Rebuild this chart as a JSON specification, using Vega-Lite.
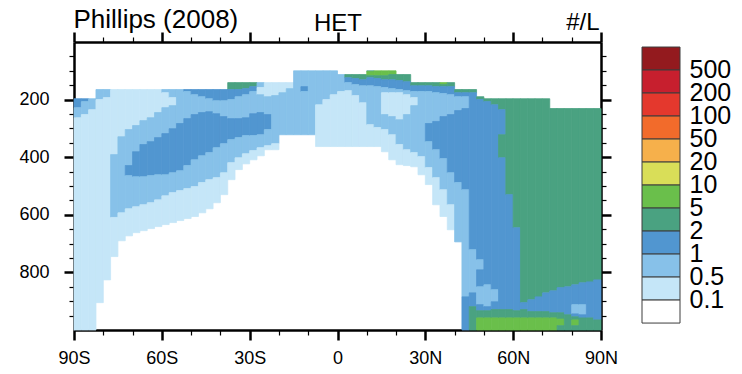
{
"$schema": "https://vega.github.io/schema/vega-lite/v6.json",
"background": "white",
"padding": {"left": 18, "top": 6, "right": 2, "bottom": 2},
"config": {
  "font": "Liberation Sans",
  "view": {"stroke": null},
  "concat": {"spacing": 23},
  "axis": {"grid": false, "domainColor": "black", "tickColor": "black", "labelColor": "black", "titleColor": "black", "labelFont": "Liberation Sans", "titleFont": "Liberation Sans"}
},
"resolve": {"scale": {"color": "independent"}},
"hconcat": [
{
  "width": 527, "height": 288,
  "data": {"values": [
{"a":-90,"b":-87.5,"p":197,"q":228,"c":"1"},{"a":-90,"b":-87.5,"p":228,"q":263,"c":"0.5"},{"a":-90,"b":-87.5,"p":263,"q":1000,"c":"0.1"},
{"a":-87.5,"b":-85,"p":197,"q":207,"c":"1"},{"a":-87.5,"b":-85,"p":207,"q":252,"c":"0.5"},{"a":-87.5,"b":-85,"p":252,"q":1000,"c":"0.1"},
{"a":-85,"b":-82.5,"p":197,"q":235,"c":"0.5"},{"a":-85,"b":-82.5,"p":235,"q":1000,"c":"0.1"},
{"a":-82.5,"b":-80,"p":165,"q":200,"c":"0.5"},{"a":-82.5,"b":-80,"p":200,"q":905,"c":"0.1"},
{"a":-80,"b":-77.5,"p":165,"q":193,"c":"0.5"},{"a":-80,"b":-77.5,"p":193,"q":826,"c":"0.1"},
{"a":-77.5,"b":-75,"p":165,"q":391,"c":"0.1"},{"a":-77.5,"b":-75,"p":391,"q":609,"c":"0.5"},{"a":-77.5,"b":-75,"p":609,"q":745,"c":"0.1"},
{"a":-75,"b":-72.5,"p":165,"q":329,"c":"0.1"},{"a":-75,"b":-72.5,"p":329,"q":593,"c":"0.5"},{"a":-75,"b":-72.5,"p":593,"q":690,"c":"0.1"},
{"a":-72.5,"b":-70,"p":165,"q":304,"c":"0.1"},{"a":-72.5,"b":-70,"p":304,"q":429,"c":"0.5"},{"a":-72.5,"b":-70,"p":429,"q":464,"c":"1"},{"a":-72.5,"b":-70,"p":464,"q":579,"c":"0.5"},{"a":-72.5,"b":-70,"p":579,"q":673,"c":"0.1"},
{"a":-70,"b":-67.5,"p":165,"q":290,"c":"0.1"},{"a":-70,"b":-67.5,"p":290,"q":381,"c":"0.5"},{"a":-70,"b":-67.5,"p":381,"q":468,"c":"1"},{"a":-70,"b":-67.5,"p":468,"q":572,"c":"0.5"},{"a":-70,"b":-67.5,"p":572,"q":662,"c":"0.1"},
{"a":-67.5,"b":-65,"p":165,"q":273,"c":"0.1"},{"a":-67.5,"b":-65,"p":273,"q":356,"c":"0.5"},{"a":-67.5,"b":-65,"p":356,"q":468,"c":"1"},{"a":-67.5,"b":-65,"p":468,"q":565,"c":"0.5"},{"a":-67.5,"b":-65,"p":565,"q":655,"c":"0.1"},
{"a":-65,"b":-62.5,"p":165,"q":263,"c":"0.1"},{"a":-65,"b":-62.5,"p":263,"q":346,"c":"0.5"},{"a":-65,"b":-62.5,"p":346,"q":464,"c":"1"},{"a":-65,"b":-62.5,"p":464,"q":558,"c":"0.5"},{"a":-65,"b":-62.5,"p":558,"q":648,"c":"0.1"},
{"a":-62.5,"b":-60,"p":165,"q":245,"c":"0.1"},{"a":-62.5,"b":-60,"p":245,"q":332,"c":"0.5"},{"a":-62.5,"b":-60,"p":332,"q":461,"c":"1"},{"a":-62.5,"b":-60,"p":461,"q":548,"c":"0.5"},{"a":-62.5,"b":-60,"p":548,"q":641,"c":"0.1"},
{"a":-60,"b":-57.5,"p":165,"q":176,"c":"0.5"},{"a":-60,"b":-57.5,"p":176,"q":228,"c":"0.1"},{"a":-60,"b":-57.5,"p":228,"q":318,"c":"0.5"},{"a":-60,"b":-57.5,"p":318,"q":461,"c":"1"},{"a":-60,"b":-57.5,"p":461,"q":534,"c":"0.5"},{"a":-60,"b":-57.5,"p":534,"q":634,"c":"0.1"},
{"a":-57.5,"b":-55,"p":165,"q":193,"c":"0.5"},{"a":-57.5,"b":-55,"p":193,"q":221,"c":"0.1"},{"a":-57.5,"b":-55,"p":221,"q":301,"c":"0.5"},{"a":-57.5,"b":-55,"p":301,"q":454,"c":"1"},{"a":-57.5,"b":-55,"p":454,"q":523,"c":"0.5"},{"a":-57.5,"b":-55,"p":523,"q":627,"c":"0.1"},
{"a":-55,"b":-52.5,"p":165,"q":283,"c":"0.5"},{"a":-55,"b":-52.5,"p":283,"q":447,"c":"1"},{"a":-55,"b":-52.5,"p":447,"q":516,"c":"0.5"},{"a":-55,"b":-52.5,"p":516,"q":620,"c":"0.1"},
{"a":-52.5,"b":-50,"p":165,"q":172,"c":"1"},{"a":-52.5,"b":-50,"p":172,"q":266,"c":"0.5"},{"a":-52.5,"b":-50,"p":266,"q":429,"c":"1"},{"a":-52.5,"b":-50,"p":429,"q":509,"c":"0.5"},{"a":-52.5,"b":-50,"p":509,"q":613,"c":"0.1"},
{"a":-50,"b":-47.5,"p":165,"q":183,"c":"1"},{"a":-50,"b":-47.5,"p":183,"q":252,"c":"0.5"},{"a":-50,"b":-47.5,"p":252,"q":409,"c":"1"},{"a":-50,"b":-47.5,"p":409,"q":502,"c":"0.5"},{"a":-50,"b":-47.5,"p":502,"q":606,"c":"0.1"},
{"a":-47.5,"b":-45,"p":165,"q":190,"c":"1"},{"a":-47.5,"b":-45,"p":190,"q":245,"c":"0.5"},{"a":-47.5,"b":-45,"p":245,"q":395,"c":"1"},{"a":-47.5,"b":-45,"p":395,"q":488,"c":"0.5"},{"a":-47.5,"b":-45,"p":488,"q":593,"c":"0.1"},
{"a":-45,"b":-42.5,"p":165,"q":197,"c":"1"},{"a":-45,"b":-42.5,"p":197,"q":242,"c":"0.5"},{"a":-45,"b":-42.5,"p":242,"q":384,"c":"1"},{"a":-45,"b":-42.5,"p":384,"q":478,"c":"0.5"},{"a":-45,"b":-42.5,"p":478,"q":579,"c":"0.1"},
{"a":-42.5,"b":-40,"p":165,"q":204,"c":"1"},{"a":-42.5,"b":-40,"p":204,"q":249,"c":"0.5"},{"a":-42.5,"b":-40,"p":249,"q":367,"c":"1"},{"a":-42.5,"b":-40,"p":367,"q":471,"c":"0.5"},{"a":-42.5,"b":-40,"p":471,"q":558,"c":"0.1"},
{"a":-40,"b":-37.5,"p":165,"q":204,"c":"1"},{"a":-40,"b":-37.5,"p":204,"q":259,"c":"0.5"},{"a":-40,"b":-37.5,"p":259,"q":353,"c":"1"},{"a":-40,"b":-37.5,"p":353,"q":454,"c":"0.5"},{"a":-40,"b":-37.5,"p":454,"q":530,"c":"0.1"},
{"a":-37.5,"b":-35,"p":141,"q":165,"c":"2"},{"a":-37.5,"b":-35,"p":165,"q":200,"c":"1"},{"a":-37.5,"b":-35,"p":200,"q":266,"c":"0.5"},{"a":-37.5,"b":-35,"p":266,"q":339,"c":"1"},{"a":-37.5,"b":-35,"p":339,"q":419,"c":"0.5"},{"a":-37.5,"b":-35,"p":419,"q":478,"c":"0.1"},
{"a":-35,"b":-32.5,"p":141,"q":165,"c":"2"},{"a":-35,"b":-32.5,"p":165,"q":190,"c":"1"},{"a":-35,"b":-32.5,"p":190,"q":266,"c":"0.5"},{"a":-35,"b":-32.5,"p":266,"q":332,"c":"1"},{"a":-35,"b":-32.5,"p":332,"q":402,"c":"0.5"},{"a":-35,"b":-32.5,"p":402,"q":443,"c":"0.1"},
{"a":-32.5,"b":-30,"p":141,"q":162,"c":"2"},{"a":-32.5,"b":-30,"p":162,"q":183,"c":"1"},{"a":-32.5,"b":-30,"p":183,"q":263,"c":"0.5"},{"a":-32.5,"b":-30,"p":263,"q":325,"c":"1"},{"a":-32.5,"b":-30,"p":325,"q":388,"c":"0.5"},{"a":-32.5,"b":-30,"p":388,"q":423,"c":"0.1"},
{"a":-30,"b":-27.5,"p":141,"q":155,"c":"2"},{"a":-30,"b":-27.5,"p":155,"q":172,"c":"1"},{"a":-30,"b":-27.5,"p":172,"q":249,"c":"0.5"},{"a":-30,"b":-27.5,"p":249,"q":325,"c":"1"},{"a":-30,"b":-27.5,"p":325,"q":377,"c":"0.5"},{"a":-30,"b":-27.5,"p":377,"q":409,"c":"0.1"},
{"a":-27.5,"b":-25,"p":141,"q":158,"c":"0.5"},{"a":-27.5,"b":-25,"p":158,"q":183,"c":"0.1"},{"a":-27.5,"b":-25,"p":183,"q":245,"c":"0.5"},{"a":-27.5,"b":-25,"p":245,"q":322,"c":"1"},{"a":-27.5,"b":-25,"p":322,"q":367,"c":"0.5"},{"a":-27.5,"b":-25,"p":367,"q":395,"c":"0.1"},
{"a":-25,"b":-22.5,"p":141,"q":190,"c":"0.1"},{"a":-25,"b":-22.5,"p":190,"q":252,"c":"0.5"},{"a":-25,"b":-22.5,"p":252,"q":304,"c":"1"},{"a":-25,"b":-22.5,"p":304,"q":360,"c":"0.5"},{"a":-25,"b":-22.5,"p":360,"q":374,"c":"0.1"},
{"a":-22.5,"b":-20,"p":141,"q":186,"c":"0.1"},{"a":-22.5,"b":-20,"p":186,"q":353,"c":"0.5"},{"a":-22.5,"b":-20,"p":353,"q":374,"c":"0.1"},
{"a":-20,"b":-17.5,"p":141,"q":176,"c":"0.1"},{"a":-20,"b":-17.5,"p":176,"q":322,"c":"0.5"},
{"a":-17.5,"b":-15,"p":141,"q":162,"c":"0.1"},{"a":-17.5,"b":-15,"p":162,"q":322,"c":"0.5"},
{"a":-15,"b":-12.5,"p":100,"q":322,"c":"0.5"},
{"a":-12.5,"b":-10,"p":100,"q":155,"c":"0.5"},{"a":-12.5,"b":-10,"p":155,"q":172,"c":"1"},{"a":-12.5,"b":-10,"p":172,"q":322,"c":"0.5"},
{"a":-10,"b":-7.5,"p":100,"q":322,"c":"0.5"},
{"a":-7.5,"b":-5,"p":100,"q":218,"c":"0.5"},{"a":-7.5,"b":-5,"p":218,"q":363,"c":"0.1"},
{"a":-5,"b":-2.5,"p":100,"q":200,"c":"0.5"},{"a":-5,"b":-2.5,"p":200,"q":363,"c":"0.1"},
{"a":-2.5,"b":0,"p":100,"q":183,"c":"0.5"},{"a":-2.5,"b":0,"p":183,"q":363,"c":"0.1"},
{"a":0,"b":2.5,"p":113,"q":172,"c":"0.5"},{"a":0,"b":2.5,"p":172,"q":363,"c":"0.1"},
{"a":2.5,"b":5,"p":113,"q":124,"c":"2"},{"a":2.5,"b":5,"p":124,"q":141,"c":"1"},{"a":2.5,"b":5,"p":141,"q":169,"c":"0.5"},{"a":2.5,"b":5,"p":169,"q":363,"c":"0.1"},
{"a":5,"b":7.5,"p":113,"q":127,"c":"2"},{"a":5,"b":7.5,"p":127,"q":148,"c":"1"},{"a":5,"b":7.5,"p":148,"q":186,"c":"0.5"},{"a":5,"b":7.5,"p":186,"q":363,"c":"0.1"},
{"a":7.5,"b":10,"p":113,"q":131,"c":"2"},{"a":7.5,"b":10,"p":131,"q":152,"c":"1"},{"a":7.5,"b":10,"p":152,"q":211,"c":"0.5"},{"a":7.5,"b":10,"p":211,"q":363,"c":"0.1"},
{"a":10,"b":12.5,"p":100,"q":103,"c":"2"},{"a":10,"b":12.5,"p":103,"q":117,"c":"5"},{"a":10,"b":12.5,"p":117,"q":124,"c":"2"},{"a":10,"b":12.5,"p":124,"q":152,"c":"1"},{"a":10,"b":12.5,"p":152,"q":287,"c":"0.5"},{"a":10,"b":12.5,"p":287,"q":363,"c":"0.1"},
{"a":12.5,"b":15,"p":100,"q":117,"c":"5"},{"a":12.5,"b":15,"p":117,"q":127,"c":"2"},{"a":12.5,"b":15,"p":127,"q":155,"c":"1"},{"a":12.5,"b":15,"p":155,"q":297,"c":"0.5"},{"a":12.5,"b":15,"p":297,"q":363,"c":"0.1"},
{"a":15,"b":17.5,"p":100,"q":117,"c":"5"},{"a":15,"b":17.5,"p":117,"q":131,"c":"2"},{"a":15,"b":17.5,"p":131,"q":158,"c":"1"},{"a":15,"b":17.5,"p":158,"q":176,"c":"0.5"},{"a":15,"b":17.5,"p":176,"q":252,"c":"0.1"},{"a":15,"b":17.5,"p":252,"q":304,"c":"0.5"},{"a":15,"b":17.5,"p":304,"q":381,"c":"0.1"},
{"a":17.5,"b":20,"p":100,"q":113,"c":"5"},{"a":17.5,"b":20,"p":113,"q":131,"c":"2"},{"a":17.5,"b":20,"p":131,"q":162,"c":"1"},{"a":17.5,"b":20,"p":162,"q":176,"c":"0.5"},{"a":17.5,"b":20,"p":176,"q":259,"c":"0.1"},{"a":17.5,"b":20,"p":259,"q":322,"c":"0.5"},{"a":17.5,"b":20,"p":322,"q":409,"c":"0.1"},
{"a":20,"b":22.5,"p":113,"q":134,"c":"2"},{"a":20,"b":22.5,"p":134,"q":165,"c":"1"},{"a":20,"b":22.5,"p":165,"q":176,"c":"0.5"},{"a":20,"b":22.5,"p":176,"q":270,"c":"0.1"},{"a":20,"b":22.5,"p":270,"q":356,"c":"0.5"},{"a":20,"b":22.5,"p":356,"q":426,"c":"0.1"},
{"a":22.5,"b":25,"p":113,"q":138,"c":"2"},{"a":22.5,"b":25,"p":138,"q":169,"c":"1"},{"a":22.5,"b":25,"p":169,"q":183,"c":"0.5"},{"a":22.5,"b":25,"p":183,"q":252,"c":"0.1"},{"a":22.5,"b":25,"p":252,"q":374,"c":"0.5"},{"a":22.5,"b":25,"p":374,"q":429,"c":"0.1"},
{"a":25,"b":27.5,"p":141,"q":152,"c":"2"},{"a":25,"b":27.5,"p":152,"q":172,"c":"1"},{"a":25,"b":27.5,"p":172,"q":193,"c":"0.5"},{"a":25,"b":27.5,"p":193,"q":221,"c":"0.1"},{"a":25,"b":27.5,"p":221,"q":384,"c":"0.5"},{"a":25,"b":27.5,"p":384,"q":433,"c":"0.1"},
{"a":27.5,"b":30,"p":141,"q":152,"c":"2"},{"a":27.5,"b":30,"p":152,"q":172,"c":"1"},{"a":27.5,"b":30,"p":172,"q":398,"c":"0.5"},{"a":27.5,"b":30,"p":398,"q":461,"c":"0.1"},
{"a":30,"b":32.5,"p":141,"q":152,"c":"2"},{"a":30,"b":32.5,"p":152,"q":172,"c":"1"},{"a":30,"b":32.5,"p":172,"q":283,"c":"0.5"},{"a":30,"b":32.5,"p":283,"q":346,"c":"1"},{"a":30,"b":32.5,"p":346,"q":436,"c":"0.5"},{"a":30,"b":32.5,"p":436,"q":495,"c":"0.1"},
{"a":32.5,"b":35,"p":141,"q":155,"c":"2"},{"a":32.5,"b":35,"p":155,"q":176,"c":"1"},{"a":32.5,"b":35,"p":176,"q":276,"c":"0.5"},{"a":32.5,"b":35,"p":276,"q":374,"c":"1"},{"a":32.5,"b":35,"p":374,"q":471,"c":"0.5"},{"a":32.5,"b":35,"p":471,"q":565,"c":"0.1"},
{"a":35,"b":37.5,"p":141,"q":148,"c":"5"},{"a":35,"b":37.5,"p":148,"q":155,"c":"2"},{"a":35,"b":37.5,"p":155,"q":179,"c":"1"},{"a":35,"b":37.5,"p":179,"q":259,"c":"0.5"},{"a":35,"b":37.5,"p":259,"q":405,"c":"1"},{"a":35,"b":37.5,"p":405,"q":513,"c":"0.5"},{"a":35,"b":37.5,"p":513,"q":606,"c":"0.1"},
{"a":37.5,"b":40,"p":141,"q":155,"c":"2"},{"a":37.5,"b":40,"p":155,"q":183,"c":"1"},{"a":37.5,"b":40,"p":183,"q":252,"c":"0.5"},{"a":37.5,"b":40,"p":252,"q":454,"c":"1"},{"a":37.5,"b":40,"p":454,"q":565,"c":"0.5"},{"a":37.5,"b":40,"p":565,"q":652,"c":"0.1"},
{"a":40,"b":42.5,"p":165,"q":176,"c":"2"},{"a":40,"b":42.5,"p":176,"q":190,"c":"1"},{"a":40,"b":42.5,"p":190,"q":238,"c":"0.5"},{"a":40,"b":42.5,"p":238,"q":488,"c":"1"},{"a":40,"b":42.5,"p":488,"q":694,"c":"0.5"},
{"a":42.5,"b":45,"p":165,"q":176,"c":"2"},{"a":42.5,"b":45,"p":176,"q":190,"c":"1"},{"a":42.5,"b":45,"p":190,"q":231,"c":"0.5"},{"a":42.5,"b":45,"p":231,"q":513,"c":"1"},{"a":42.5,"b":45,"p":513,"q":885,"c":"0.5"},{"a":42.5,"b":45,"p":885,"q":1000,"c":"1"},
{"a":45,"b":47.5,"p":165,"q":176,"c":"2"},{"a":45,"b":47.5,"p":176,"q":721,"c":"1"},{"a":45,"b":47.5,"p":721,"q":871,"c":"0.5"},{"a":45,"b":47.5,"p":871,"q":919,"c":"1"},{"a":45,"b":47.5,"p":919,"q":1000,"c":"2"},
{"a":47.5,"b":50,"p":190,"q":200,"c":"2"},{"a":47.5,"b":50,"p":200,"q":756,"c":"1"},{"a":47.5,"b":50,"p":756,"q":791,"c":"0.5"},{"a":47.5,"b":50,"p":791,"q":850,"c":"1"},{"a":47.5,"b":50,"p":850,"q":912,"c":"0.5"},{"a":47.5,"b":50,"p":912,"q":933,"c":"1"},{"a":47.5,"b":50,"p":933,"q":958,"c":"2"},{"a":47.5,"b":50,"p":958,"q":1000,"c":"5"},
{"a":50,"b":52.5,"p":197,"q":207,"c":"2"},{"a":50,"b":52.5,"p":207,"q":843,"c":"1"},{"a":50,"b":52.5,"p":843,"q":919,"c":"0.5"},{"a":50,"b":52.5,"p":919,"q":933,"c":"1"},{"a":50,"b":52.5,"p":933,"q":958,"c":"2"},{"a":50,"b":52.5,"p":958,"q":1000,"c":"5"},
{"a":52.5,"b":55,"p":197,"q":218,"c":"2"},{"a":52.5,"b":55,"p":218,"q":860,"c":"1"},{"a":52.5,"b":55,"p":860,"q":902,"c":"0.5"},{"a":52.5,"b":55,"p":902,"q":929,"c":"1"},{"a":52.5,"b":55,"p":929,"q":958,"c":"2"},{"a":52.5,"b":55,"p":958,"q":1000,"c":"5"},
{"a":55,"b":57.5,"p":197,"q":235,"c":"2"},{"a":55,"b":57.5,"p":235,"q":322,"c":"1"},{"a":55,"b":57.5,"p":322,"q":402,"c":"2"},{"a":55,"b":57.5,"p":402,"q":929,"c":"1"},{"a":55,"b":57.5,"p":929,"q":958,"c":"2"},{"a":55,"b":57.5,"p":958,"q":1000,"c":"5"},
{"a":57.5,"b":60,"p":197,"q":530,"c":"2"},{"a":57.5,"b":60,"p":530,"q":929,"c":"1"},{"a":57.5,"b":60,"p":929,"q":958,"c":"2"},{"a":57.5,"b":60,"p":958,"q":1000,"c":"5"},
{"a":60,"b":62.5,"p":197,"q":645,"c":"2"},{"a":60,"b":62.5,"p":645,"q":933,"c":"1"},{"a":60,"b":62.5,"p":933,"q":958,"c":"2"},{"a":60,"b":62.5,"p":958,"q":1000,"c":"5"},
{"a":62.5,"b":65,"p":197,"q":905,"c":"2"},{"a":62.5,"b":65,"p":905,"q":929,"c":"1"},{"a":62.5,"b":65,"p":929,"q":958,"c":"2"},{"a":62.5,"b":65,"p":958,"q":1000,"c":"5"},
{"a":65,"b":67.5,"p":197,"q":895,"c":"2"},{"a":65,"b":67.5,"p":895,"q":936,"c":"1"},{"a":65,"b":67.5,"p":936,"q":958,"c":"2"},{"a":65,"b":67.5,"p":958,"q":1000,"c":"5"},
{"a":67.5,"b":70,"p":197,"q":885,"c":"2"},{"a":67.5,"b":70,"p":885,"q":936,"c":"1"},{"a":67.5,"b":70,"p":936,"q":958,"c":"2"},{"a":67.5,"b":70,"p":958,"q":1000,"c":"5"},
{"a":70,"b":72.5,"p":197,"q":871,"c":"2"},{"a":70,"b":72.5,"p":871,"q":936,"c":"1"},{"a":70,"b":72.5,"p":936,"q":958,"c":"2"},{"a":70,"b":72.5,"p":958,"q":1000,"c":"5"},
{"a":72.5,"b":75,"p":231,"q":864,"c":"2"},{"a":72.5,"b":75,"p":864,"q":940,"c":"1"},{"a":72.5,"b":75,"p":940,"q":958,"c":"2"},{"a":72.5,"b":75,"p":958,"q":1000,"c":"5"},
{"a":75,"b":77.5,"p":231,"q":853,"c":"2"},{"a":75,"b":77.5,"p":853,"q":940,"c":"1"},{"a":75,"b":77.5,"p":940,"q":962,"c":"2"},{"a":75,"b":77.5,"p":962,"q":985,"c":"5"},{"a":75,"b":77.5,"p":985,"q":1000,"c":"2"},
{"a":77.5,"b":80,"p":231,"q":850,"c":"2"},{"a":77.5,"b":80,"p":850,"q":947,"c":"1"},{"a":77.5,"b":80,"p":947,"q":1000,"c":"2"},
{"a":80,"b":82.5,"p":231,"q":843,"c":"2"},{"a":80,"b":82.5,"p":843,"q":912,"c":"1"},{"a":80,"b":82.5,"p":912,"q":944,"c":"0.5"},{"a":80,"b":82.5,"p":944,"q":954,"c":"1"},{"a":80,"b":82.5,"p":954,"q":965,"c":"2"},{"a":80,"b":82.5,"p":965,"q":985,"c":"5"},{"a":80,"b":82.5,"p":985,"q":1000,"c":"2"},
{"a":82.5,"b":85,"p":231,"q":836,"c":"2"},{"a":82.5,"b":85,"p":836,"q":912,"c":"1"},{"a":82.5,"b":85,"p":912,"q":947,"c":"0.5"},{"a":82.5,"b":85,"p":947,"q":958,"c":"1"},{"a":82.5,"b":85,"p":958,"q":1000,"c":"2"},
{"a":85,"b":87.5,"p":231,"q":833,"c":"2"},{"a":85,"b":87.5,"p":833,"q":958,"c":"1"},{"a":85,"b":87.5,"p":958,"q":1000,"c":"2"},
{"a":87.5,"b":90,"p":231,"q":826,"c":"2"},{"a":87.5,"b":90,"p":826,"q":965,"c":"1"},{"a":87.5,"b":90,"p":965,"q":1000,"c":"2"}
  ]},
  "resolve": {"axis": {"x": "independent", "y": "independent"}},
  "layer": [
    {
      "mark": {"type": "rect", "strokeWidth": 0.8},
      "encoding": {
        "x": {"field": "a", "type": "quantitative", "scale": {"domain": [-90, 90], "nice": false, "zero": false},
              "axis": {"orient": "bottom", "values": [-90,-60,-30,0,30,60,90], "labelExpr": "datum.value < 0 ? (-datum.value) + 'S' : datum.value > 0 ? datum.value + 'N' : '0'", "tickSize": 10, "tickWidth": 2.5, "domainWidth": 2.5, "labelFontSize": 18, "labelPadding": 9, "title": null, "labelFlush": false, "labelOverlap": false}},
        "x2": {"field": "b"},
        "y": {"field": "p", "type": "quantitative", "scale": {"domain": [0, 1000], "reverse": true, "nice": false, "zero": false},
              "axis": {"orient": "left", "values": [200,400,600,800], "tickSize": 10, "tickWidth": 2.5, "domainWidth": 2.5, "labelFontSize": 18, "labelPadding": 15, "title": null, "labelOverlap": false}},
        "y2": {"field": "q"},
        "color": {"field": "c", "type": "ordinal", "legend": null,
                  "scale": {"domain": ["0","0.1","0.5","1","2","5","10","20","50","100","200","500"], "range": ["#ffffff","#c5e6f8","#87c1e9","#5196d0","#4aa281","#6abf4b","#d9de58","#f6b04b","#f26b2b","#e4382d","#c71f2e","#931a1e"]}},
        "stroke": {"field": "c", "type": "ordinal", "legend": null,
                  "scale": {"domain": ["0","0.1","0.5","1","2","5","10","20","50","100","200","500"], "range": ["#ffffff","#c5e6f8","#87c1e9","#5196d0","#4aa281","#6abf4b","#d9de58","#f6b04b","#f26b2b","#e4382d","#c71f2e","#931a1e"]}}
      }
    },
    {
      "mark": {"type": "rect", "opacity": 0},
      "encoding": {
        "x": {"field": "a", "type": "quantitative", "scale": {"domain": [-90, 90], "nice": false, "zero": false},
              "axis": {"orient": "top", "values": [-90,-60,-30,0,30,60,90], "labels": false, "tickSize": 10, "tickWidth": 2.5, "domainWidth": 2.5, "title": "HET", "titleFontSize": 24, "titleFontWeight": "normal", "titleAnchor": "middle", "titleY": -12, "titleBaseline": "alphabetic"}},
        "x2": {"field": "b"},
        "y": {"field": "p", "type": "quantitative", "scale": {"domain": [0, 1000], "reverse": true, "nice": false, "zero": false},
              "axis": {"orient": "right", "values": [200,400,600,800], "labels": false, "tickSize": 10, "tickWidth": 2.5, "domainWidth": 2.5, "title": "#/L", "titleAngle": 0, "titleX": -2, "titleY": -13, "titleAlign": "right", "titleBaseline": "alphabetic", "titleFontSize": 24, "titleFontWeight": "normal"}},
        "y2": {"field": "q"}
      }
    },
    {
      "mark": {"type": "rect", "opacity": 0},
      "encoding": {
        "x": {"field": "a", "type": "quantitative", "scale": {"domain": [-90, 90], "nice": false, "zero": false},
              "axis": {"orient": "bottom", "values": [-80,-70,-50,-40,-20,-10,10,20,40,50,70,80], "labels": false, "domain": false, "tickSize": 5, "tickWidth": 1.2, "title": null}},
        "x2": {"field": "b"},
        "y": {"field": "p", "type": "quantitative", "scale": {"domain": [0, 1000], "reverse": true, "nice": false, "zero": false},
              "axis": {"orient": "left", "values": [50,100,150,250,300,350,450,500,550,650,700,750,850,900,950], "labels": false, "domain": false, "tickSize": 5, "tickWidth": 1.2, "title": null}},
        "y2": {"field": "q"}
      }
    },
    {
      "mark": {"type": "rect", "opacity": 0},
      "encoding": {
        "x": {"field": "a", "type": "quantitative", "scale": {"domain": [-90, 90], "nice": false, "zero": false},
              "axis": {"orient": "top", "values": [-80,-70,-50,-40,-20,-10,10,20,40,50,70,80], "labels": false, "domain": false, "tickSize": 5, "tickWidth": 1.2, "title": "Phillips (2008)", "titleFontSize": 26, "titleFontWeight": "normal", "titleAnchor": "start", "titleAlign": "left", "titleX": -1, "titleY": -15, "titleBaseline": "alphabetic"}},
        "x2": {"field": "b"},
        "y": {"field": "p", "type": "quantitative", "scale": {"domain": [0, 1000], "reverse": true, "nice": false, "zero": false},
              "axis": {"orient": "right", "values": [50,100,150,250,300,350,450,500,550,650,700,750,850,900,950], "labels": false, "domain": false, "tickSize": 5, "tickWidth": 1.2, "title": null}},
        "y2": {"field": "q"}
      }
    }
  ]
},
{
  "width": 38, "height": 288,
  "data": {"values": [{"lo":"500"},{"lo":"200"},{"lo":"100"},{"lo":"50"},{"lo":"20"},{"lo":"10"},{"lo":"5"},{"lo":"2"},{"lo":"1"},{"lo":"0.5"},{"lo":"0.1"},{"lo":"0"}]},
  "mark": {"type": "rect", "stroke": "#3c3c3c", "strokeWidth": 1},
  "encoding": {
    "y": {"field": "lo", "type": "ordinal", "sort": ["500","200","100","50","20","10","5","2","1","0.5","0.1","0"],
          "scale": {"paddingInner": 0, "paddingOuter": 0.26, "align": 0.42},
          "axis": {"orient": "right", "values": ["500","200","100","50","20","10","5","2","1","0.5","0.1"], "labelOffset": 11.5, "domain": false, "ticks": false, "labelFontSize": 25, "labelPadding": 9, "title": null, "labelOverlap": false, "labelBound": false}},
    "color": {"field": "lo", "type": "ordinal", "legend": null,
              "scale": {"domain": ["0","0.1","0.5","1","2","5","10","20","50","100","200","500"], "range": ["#ffffff","#c5e6f8","#87c1e9","#5196d0","#4aa281","#6abf4b","#d9de58","#f6b04b","#f26b2b","#e4382d","#c71f2e","#931a1e"]}}
  }
}
]
}
